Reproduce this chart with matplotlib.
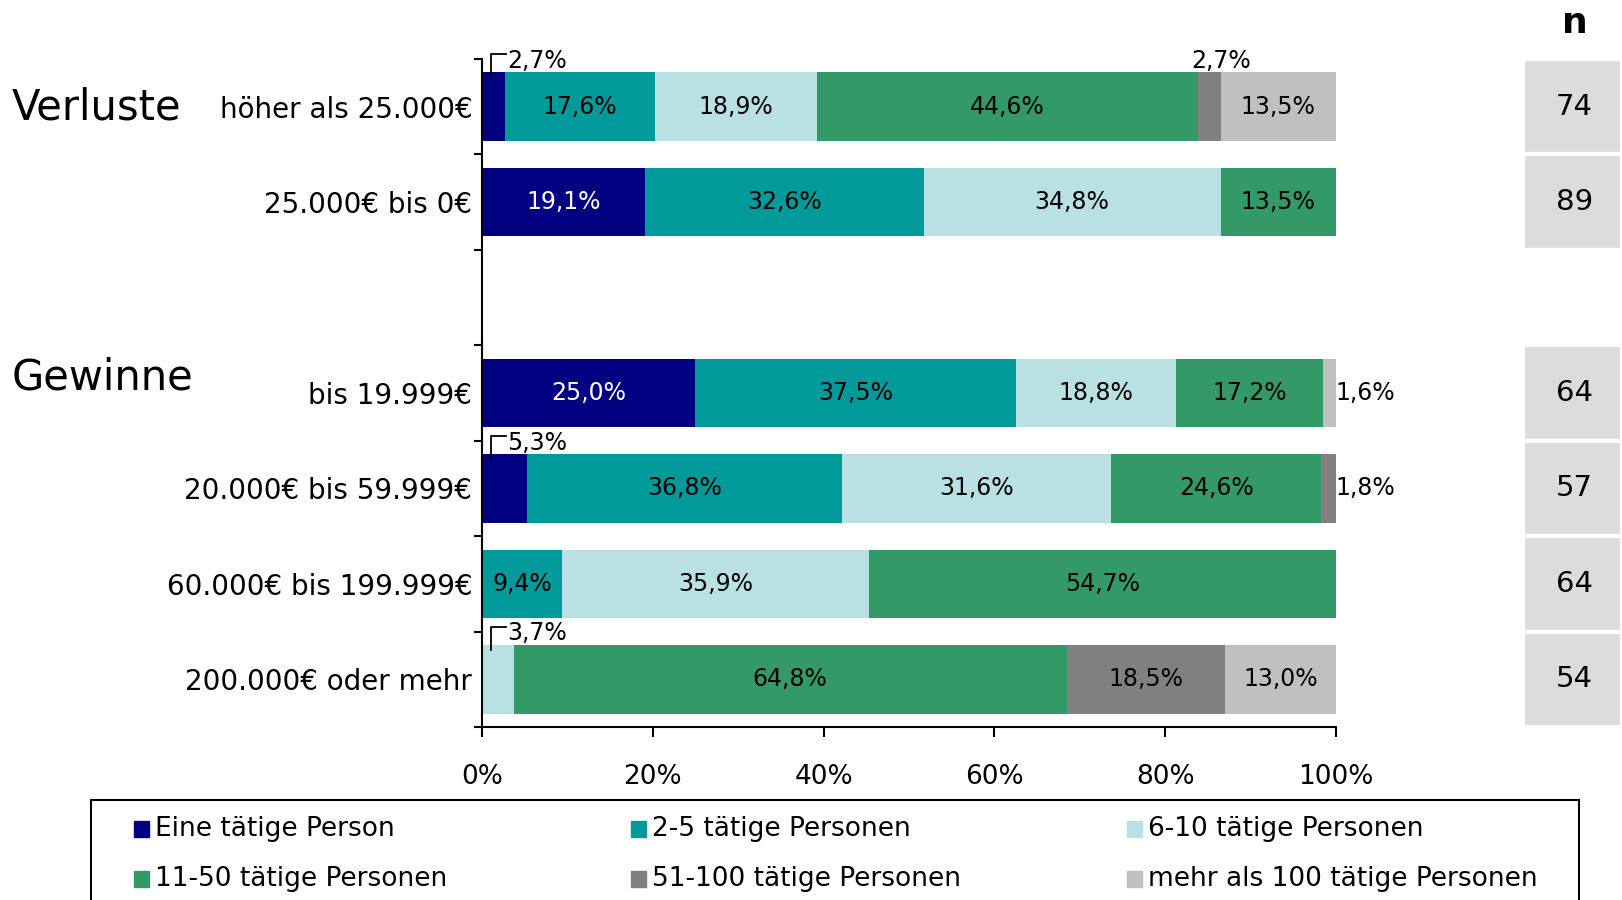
import numpy as np
import matplotlib
matplotlib.use("Agg")
import matplotlib.pyplot as plt
from matplotlib.patches import Rectangle

plt.rcParams.update({
    "font.family": ["DejaVu Sans"],
    "axes.linewidth": 1.5,
    "axes.edgecolor": "black",
    "xtick.color": "black",
    "ytick.color": "black",
})

# ---- data ----
categories = ["höher als 25.000€", "25.000€ bis 0€", "bis 19.999€",
              "20.000€ bis 59.999€", "60.000€ bis 199.999€", "200.000€ oder mehr"]
n_values = [74, 89, 64, 57, 64, 54]
groups = ["Verluste", "Gewinne"]

series_names = ["Eine tätige Person", "2-5 tätige Personen", "6-10 tätige Personen",
                "11-50 tätige Personen", "51-100 tätige Personen",
                "mehr als 100 tätige Personen"]
eine = [2.7, 19.1, 25.0, 5.3, 0.0, 0.0]
p2_5 = [17.6, 32.6, 37.5, 36.8, 9.4, 0.0]
p6_10 = [18.9, 34.8, 18.8, 31.6, 35.9, 3.7]
p11_50 = [44.6, 13.5, 17.2, 24.6, 54.7, 64.8]
p51_100 = [2.7, 0.0, 0.0, 1.8, 0.0, 18.5]
p100 = [13.5, 0.0, 1.6, 0.0, 0.0, 13.0]
series = [eine, p2_5, p6_10, p11_50, p51_100, p100]

# ---- layout / style ----
colors = ["#000080", "#009A9A", "#B9E0E3", "#339966", "#808080", "#C0C0C0"]
label_colors = ["white", "black", "black", "black", "black", "black"]
row_slots = [0, 1, 3, 4, 5, 6]   # slot 2 bleibt leer (Trenner Verluste/Gewinne)
n_slots = 7
bar_h = 0.72
W, H = 1622, 900


def fmt(v):
    return f"{v:.1f}%".replace(".", ",")


fig = plt.figure(figsize=(W / 100, H / 100), dpi=100)
ax = fig.add_axes([482 / W, 1 - 727 / H, (1336 - 482) / W, (727 - 59) / H])

y = np.array(row_slots) + 0.5
left = np.zeros(len(categories))
for vals, col, tcol in zip(series, colors, label_colors):
    vals = np.array(vals)
    ax.barh(y, vals, left=left, height=bar_h, color=col, linewidth=0)
    for i, v in enumerate(vals):
        if v <= 0:
            continue
        end = left[i] + v
        top = y[i] - bar_h / 2
        if v >= 9:
            # Wert im Balken
            ax.text(left[i] + v / 2, y[i], fmt(v), ha="center", va="center",
                    fontsize=17, color=tcol)
        elif end >= 99.9:
            # kleiner Wert am Ende -> rechts daneben
            ax.text(max(end, 100) - 0.2, y[i], fmt(v), ha="left", va="center",
                    fontsize=17, clip_on=False)
        elif left[i] == 0:
            # kleiner Wert am Anfang -> Winkel + Beschriftung oben
            bx = min(v / 2, 1.0)
            ax.plot([bx, bx, bx + 1.8], [top + 0.05, top - 0.19, top - 0.19],
                    color="black", lw=1.3, clip_on=False)
            ax.text(bx + 1.9, top - 0.12, fmt(v), ha="left", va="center",
                    fontsize=17)
        else:
            ax.text(end, top - 0.12, fmt(v), ha="center",
                    va="center", fontsize=17)
    left += vals

ax.set_xlim(0, 100)
ax.set_ylim(n_slots, 0)
ax.set_xticks(np.arange(0, 101, 20))
ax.set_xticklabels([f"{t}%" for t in range(0, 101, 20)], fontsize=19)
ax.tick_params(axis="x", length=7.5, width=1.5, pad=19.5)
ax.set_yticks(y)
ax.set_yticklabels(categories, fontsize=20)
ax.tick_params(axis="y", which="major", length=0, pad=7)
ax.set_yticks(np.arange(0, n_slots + 1), minor=True)
ax.tick_params(axis="y", which="minor", length=6, width=1.5)
for s in ["top", "right"]:
    ax.spines[s].set_visible(False)

# Gruppenüberschriften
fig.text(12 / W, 1 - 120 / H, groups[0], fontsize=30, va="baseline")
fig.text(12 / W, 1 - 390 / H, groups[1], fontsize=30, va="baseline")

# n-Spalte
axn = fig.add_axes([1523 / W, 1 - 727 / H, (W - 1523) / W, (727 - 59) / H])
axn.set_xlim(0, 1)
axn.set_ylim(n_slots, 0)
axn.axis("off")
axn.barh(y, 1, height=1.0, color="#DCDCDC", edgecolor="white", linewidth=3)
for yi, n in zip(y, n_values):
    axn.text(0.52, yi, str(n), ha="center", va="center", fontsize=21)
fig.text(1575 / W, 1 - 33 / H, "n", fontsize=26, fontweight="bold",
         ha="center", va="baseline")

# Legende (Rahmen + Einträge)
fig.add_artist(Rectangle((91 / W, -0.1), (1579 - 91) / W, 0.1 + 1 - 800 / H,
                         transform=fig.transFigure, fill=False,
                         edgecolor="black", linewidth=1.5, clip_on=False))
leg_x = [134, 631, 1127]
leg_y = [829, 879]
for k, (name, col) in enumerate(zip(series_names, colors)):
    r, c = divmod(k, 3)
    x0, y0 = leg_x[c], leg_y[r]
    fig.add_artist(Rectangle((x0 / W, 1 - (y0 + 8) / H), 15 / W, 16 / H,
                             transform=fig.transFigure, color=col))
    fig.text((x0 + 21) / W, 1 - y0 / H, name, fontsize=19, va="center")

fig.savefig("out.png", dpi=100, facecolor="white")
